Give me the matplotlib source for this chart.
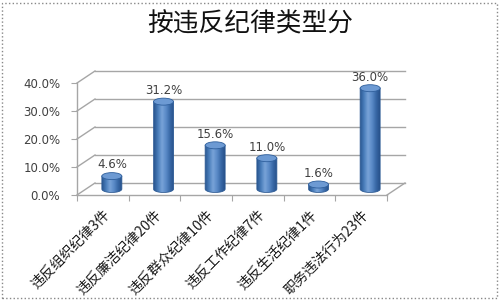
import numpy as np
import matplotlib
matplotlib.use('Agg')
import matplotlib.pyplot as plt
from matplotlib.patches import Ellipse, Polygon, Rectangle
from matplotlib.colors import LinearSegmentedColormap

plt.rcParams['font.family'] = ['Noto Sans CJK SC', 'DejaVu Sans']

TITLE = "按违反纪律类型分"
CATEGORIES = ["违反组织纪律3件", "违反廉洁纪律20件", "违反群众纪律10件",
              "违反工作纪律7件", "违反生活纪律1件", "职务违法行为23件"]
SHARES = [4.6, 31.2, 15.6, 11.0, 1.6, 36.0]
Y_TICKS = [0, 10, 20, 30, 40]

W, H = 500, 300
GRID_COL = '#a6a6a6'
TEXT_COL = '#404040'
bar_cmap = LinearSegmentedColormap.from_list(
    'cyl', ['#2a5791', '#4a7ebb', '#78a3d8', '#5b8bc8', '#3a6aa8', '#27518a'])

fig = plt.figure(figsize=(W / 100, H / 100), dpi=100)
# front plane of the 3d box: 310 x 112 px
ax = fig.add_axes([77 / W, 1 - 195 / H, 310 / W, 112 / H])
n = len(CATEGORIES)
ymax = Y_TICKS[-1]
ax.set_xlim(0, n)
ax.set_ylim(0, ymax)

# depth of the box in data units (18 px right, 12 px up)
DX = 18 / 310 * n
DY = 12 / 112 * ymax

# back wall grid + connectors to front axis
for y in Y_TICKS:
    ax.plot([DX, n + DX], [y + DY, y + DY], color=GRID_COL, lw=1, clip_on=False, zorder=1)
    ax.plot([0, DX], [y, y + DY], color=GRID_COL, lw=1, clip_on=False, zorder=1)
ax.plot([n, n + DX], [0, DY], color=GRID_COL, lw=1, clip_on=False, zorder=1)

# cylinders
rx = 10 / 310 * n
ry = 3.5 / 112 * ymax
grad = np.linspace(0, 1, 64).reshape(1, -1)
for i, v in enumerate(SHARES):
    cx = i + 0.5 + DX / 2
    base = DY / 2
    top = base + v
    t = np.linspace(np.pi, 2 * np.pi, 40)
    pts = np.column_stack([cx + rx * np.cos(t), base + ry * np.sin(t)])
    pts = np.vstack([pts, [[cx + rx, top], [cx - rx, top]]])
    body = Polygon(pts, closed=True, fc='none', ec='#2c5a94', lw=0.6, zorder=3)
    ax.add_patch(body)
    im = ax.imshow(grad, extent=(cx - rx, cx + rx, base - ry, top), aspect='auto',
                   cmap=bar_cmap, zorder=2.5, interpolation='bilinear')
    im.set_clip_path(body)
    ax.add_patch(Ellipse((cx, top), 2 * rx, 2 * ry, fc='#6d9ad3', ec='#2f5f9c',
                         lw=0.6, zorder=4))
    ax.text(cx, top + ry + 0.4, f"{v:.1f}%", ha='center', va='bottom',
            fontsize=8.5, color=TEXT_COL, family='DejaVu Sans', zorder=5)

ax.set_xlim(0, n)
ax.set_ylim(0, ymax)

for s in ['top', 'right']:
    ax.spines[s].set_visible(False)
for s in ['left', 'bottom']:
    ax.spines[s].set_color(GRID_COL)
    ax.spines[s].set_linewidth(1)

ax.set_yticks(Y_TICKS)
ax.set_yticklabels([f"{y:.1f}%" for y in Y_TICKS], family='DejaVu Sans')
ax.tick_params(axis='y', length=4, color=GRID_COL, labelcolor=TEXT_COL,
               labelsize=8.5, pad=8)

ax.set_xticks(range(n + 1))
ax.set_xticklabels([])
ax.set_xticks([i + 0.5 for i in range(n)], minor=True)
ax.set_xticklabels(CATEGORIES, minor=True, rotation=45, ha='right',
                   rotation_mode='anchor', fontsize=10, color='#1a1a1a')
ax.tick_params(axis='x', which='major', length=4, color=GRID_COL)
ax.tick_params(axis='x', which='minor', length=0, pad=9)
ax.patch.set_visible(False)

fig.text(0.5, 1 - 25 / H, TITLE, ha='center', va='center', fontsize=18.5, color='#111111')

fig.add_artist(Rectangle((2 / W, 2 / H), 495 / W, 295 / H, transform=fig.transFigure,
                         fill=False, ls=':', ec='#888888', lw=1))

fig.savefig('out.png', dpi=100)
